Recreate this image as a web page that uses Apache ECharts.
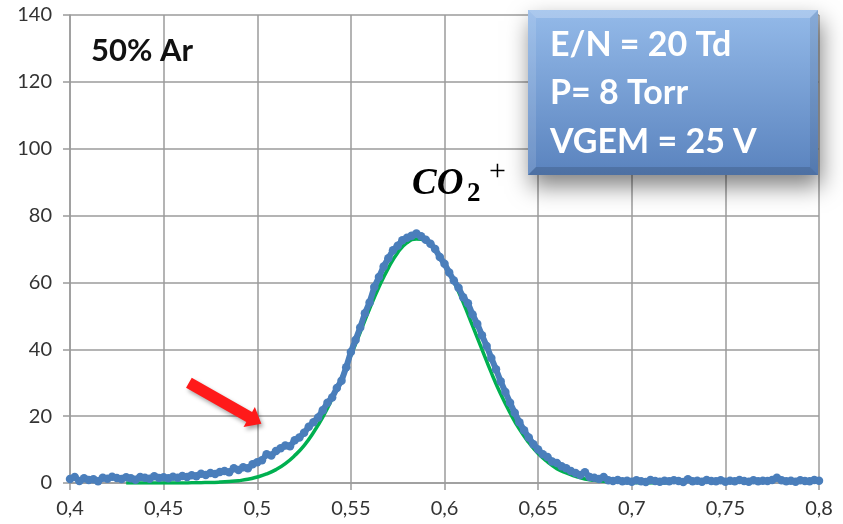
<!DOCTYPE html>
<html><head><meta charset="utf-8">
<script src="https://cdn.jsdelivr.net/npm/echarts@6/dist/echarts.min.js"></script>
<style>html,body{margin:0;padding:0;background:#fff}#c{width:843px;height:524px}</style>
</head><body><div id="c"></div>
<script>
// ---- data ----
const blueX = [
0.4000,0.4025,0.4050,0.4075,0.4100,0.4125,0.4150,0.4175,0.4200,0.4225,0.4250,0.4275,0.4300,0.4325,0.4350,0.4375,
0.4400,0.4425,0.4450,0.4475,0.4500,0.4525,0.4550,0.4575,0.4600,0.4625,0.4650,0.4675,0.4700,0.4725,0.4750,0.4775,
0.4800,0.4825,0.4850,0.4875,0.4900,0.4925,0.4950,0.4975,0.5000,0.5025,0.5050,0.5075,0.5100,0.5125,0.5150,0.5175,
0.5200,0.5225,0.5250,0.5275,0.5300,0.5325,0.5350,0.5375,0.5400,0.5425,0.5450,0.5475,0.5500,0.5525,0.5550,0.5575,
0.5600,0.5625,0.5650,0.5675,0.5700,0.5725,0.5750,0.5775,0.5800,0.5825,0.5850,0.5875,0.5900,0.5925,0.5950,0.5975,
0.6000,0.6025,0.6050,0.6075,0.6100,0.6125,0.6150,0.6175,0.6200,0.6225,0.6250,0.6275,0.6300,0.6325,0.6350,0.6375,
0.6400,0.6425,0.6450,0.6475,0.6500,0.6525,0.6550,0.6575,0.6600,0.6625,0.6650,0.6675,0.6700,0.6725,0.6750,0.6775,
0.6800,0.6825,0.6850,0.6875,0.6900,0.6925,0.6950,0.6975,0.7000,0.7025,0.7050,0.7075,0.7100,0.7125,0.7150,0.7175,
0.7200,0.7225,0.7250,0.7275,0.7300,0.7325,0.7350,0.7375,0.7400,0.7425,0.7450,0.7475,0.7500,0.7525,0.7550,0.7575,
0.7600,0.7625,0.7650,0.7675,0.7700,0.7725,0.7750,0.7775,0.7800,0.7825,0.7850,0.7875,0.7900,0.7925,0.7950,0.7975,
0.8000];
const blueY = [
1.2,1.8,0.6,1.4,0.9,1.1,0.5,1.6,1.3,1.9,1.5,1.2,1.7,1.4,1.0,1.8,
1.6,1.3,2.0,1.5,1.7,1.4,1.9,1.6,2.1,1.8,2.3,2.0,2.8,2.4,3.0,2.7,
3.3,3.6,3.2,4.4,3.9,4.7,4.4,5.6,6.2,6.8,8.6,8.2,9.6,10.4,11.2,11.0,
12.8,13.6,15.0,16.8,18.2,19.6,21.8,24.0,25.6,28.4,30.6,34.6,39.2,42.8,46.5,50.8,
54.0,58.6,61.6,64.8,67.2,69.6,71.0,72.6,73.4,74.0,74.6,73.8,72.8,71.6,70.0,67.6,
65.6,63.0,60.6,58.4,55.6,53.8,50.4,47.6,44.2,41.0,37.4,34.0,30.4,27.2,24.0,21.0,
18.2,15.8,13.6,11.6,10.0,8.6,7.8,6.4,6.0,5.0,4.4,3.6,3.0,2.4,3.2,1.8,
1.6,1.2,1.8,0.8,0.6,0.9,0.5,0.7,0.4,0.8,0.5,0.3,0.9,0.6,0.4,0.7,
0.5,0.8,0.6,0.3,1.1,0.5,0.7,0.4,0.9,0.6,0.5,0.8,0.4,0.7,0.5,0.9,
0.6,0.4,0.8,0.5,0.7,0.6,0.9,1.6,0.8,0.5,0.7,0.4,0.8,0.6,0.5,0.9,
0.7];
const fitX = [
0.430,0.440,0.450,0.460,0.465,0.470,0.475,0.480,0.485,0.490,0.495,0.500,0.505,0.510,0.515,0.520,
0.525,0.530,0.535,0.540,0.545,0.550,0.555,0.560,0.565,0.570,0.575,0.580,0.585,0.590,0.595,0.600,
0.605,0.610,0.615,0.620,0.625,0.630,0.635,0.640,0.645,0.650,0.655,0.660,0.665,0.670,0.675,0.680,
0.685,0.690,0.695,0.700,0.710,0.720];
const fitY = [
0.0,0.0,0.0,0.0,0.05,0.1,0.15,0.27,0.45,0.7,1.1,1.8,2.7,4.0,5.8,8.2,
11.2,15.1,19.7,25.2,31.4,38.1,45.1,52.1,58.6,64.3,68.9,71.9,73.0,72.3,69.8,65.6,
60.2,54.0,47.0,40.0,33.0,26.6,21.0,16.1,12.1,8.8,6.3,4.3,3.0,2.0,1.2,0.8,
0.5,0.3,0.2,0.1,0.0,0.0];
const xRange = [0.4, 0.8, 0.05];
const yRange = [0, 140, 20];
const sampleLabel = '50% Ar';
const boxLines = ['E/N = 20 Td', 'P= 8 Torr', 'VGEM = 25 V'];
const peakLabel = ['CO', '2', '+'];
const arrowTail = [0.4635, 30.0];
const arrowTip = [0.5022, 17.7];

// ---- chart ----
const chart = echarts.init(document.getElementById('c'), null, {renderer: 'canvas'});
const gridColor = '#9b9b9b';
const fmt = v => (+v.toFixed(2)).toString().replace('.', ',');
const axisCommon = {
  axisLine: {show: true, onZero: false, lineStyle: {color: gridColor, width: 1.5}},
  axisTick: {show: true, length: 7, lineStyle: {color: gridColor, width: 1.5}},
  splitLine: {show: true, lineStyle: {color: gridColor, width: 1.5}},
};
chart.setOption({
  animation: false,
  backgroundColor: '#ffffff',
  grid: {left: 70, right: 24, top: 15, bottom: 41, containLabel: false},
  xAxis: Object.assign({
    type: 'value', min: xRange[0], max: xRange[1], interval: xRange[2],
    axisLabel: {formatter: fmt, color: '#333333', fontFamily: 'Lato', fontSize: 20, margin: 16}
  }, axisCommon),
  yAxis: Object.assign({
    type: 'value', min: yRange[0], max: yRange[1], interval: yRange[2],
    axisLabel: {color: '#333333', fontFamily: 'Lato', fontSize: 20, margin: 18}
  }, axisCommon),
  series: [
    {
      name: 'fit', type: 'line', z: 2, smooth: true, showSymbol: false, silent: true,
      data: fitX.map((x, i) => [x, fitY[i]]),
      lineStyle: {color: '#00b050', width: 3.5}
    },
    {
      name: 'data', type: 'line', z: 3, symbol: 'circle', symbolSize: 8.5, showAllSymbol: true,
      data: blueX.map((x, i) => [x, blueY[i]]),
      itemStyle: {color: '#4a7ebb'},
      lineStyle: {color: '#4a7ebb', width: 6}
    }
  ]
});

// ---- annotations ----
const t = chart.convertToPixel({gridIndex: 0}, arrowTail);
const p = chart.convertToPixel({gridIndex: 0}, arrowTip);
const dx = p[0] - t[0], dy = p[1] - t[1];
const L = Math.hypot(dx, dy), ux = dx / L, uy = dy / L, nx = -uy, ny = ux;
const sw = 5.8, hw = 11.5, hl = 14;
const bx = p[0] - ux * hl, by = p[1] - uy * hl;
const arrowPts = [
  [t[0] + nx * sw, t[1] + ny * sw],
  [bx + nx * sw, by + ny * sw],
  [bx + nx * hw, by + ny * hw],
  [p[0], p[1]],
  [bx - nx * hw, by - ny * hw],
  [bx - nx * sw, by - ny * sw],
  [t[0] - nx * sw, t[1] - ny * sw]
];
const BX = 528, BY = 10, BW = 290, BH = 165, BV = 8;
chart.setOption({
  graphic: [
    {type: 'polygon', z: 20, shape: {points: arrowPts},
      style: {fill: '#ff1a1a', shadowBlur: 4, shadowOffsetX: 2, shadowOffsetY: 3, shadowColor: 'rgba(0,0,0,0.35)'}},
    {type: 'text', z: 20, x: 91, y: 51,
      style: {text: sampleLabel, fill: '#111', fontFamily: 'Lato', fontWeight: 'bold', fontSize: 31, verticalAlign: 'middle'}},
    {type: 'text', z: 20, x: 412, y: 184,
      style: {text: peakLabel[0], fill: '#000', fontFamily: 'Liberation Serif', fontStyle: 'italic', fontWeight: 'bold', fontSize: 37, verticalAlign: 'middle'}},
    {type: 'text', z: 20, x: 467, y: 194,
      style: {text: peakLabel[1], fill: '#000', fontFamily: 'Liberation Serif', fontWeight: 'bold', fontSize: 27, verticalAlign: 'middle'}},
    {type: 'text', z: 20, x: 489, y: 172,
      style: {text: peakLabel[2], fill: '#000', fontFamily: 'Liberation Serif', fontSize: 30, verticalAlign: 'middle'}},
    {type: 'rect', z: 30, shape: {x: BX, y: BY, width: BW, height: BH},
      style: {fill: new echarts.graphic.LinearGradient(0, 0, 0, 1, [{offset: 0, color: '#94bae9'}, {offset: 1, color: '#5a83be'}]),
        shadowBlur: 22, shadowOffsetX: 3, shadowOffsetY: 11, shadowColor: 'rgba(0,0,0,0.5)'}},
    {type: 'polygon', z: 31, shape: {points: [[BX, BY], [BX + BW, BY], [BX + BW - BV, BY + BV], [BX + BV, BY + BV]]}, style: {fill: 'rgba(255,255,255,0.22)'}},
    {type: 'polygon', z: 31, shape: {points: [[BX, BY], [BX + BV, BY + BV], [BX + BV, BY + BH - BV], [BX, BY + BH]]}, style: {fill: 'rgba(255,255,255,0.12)'}},
    {type: 'polygon', z: 31, shape: {points: [[BX, BY + BH], [BX + BV, BY + BH - BV], [BX + BW - BV, BY + BH - BV], [BX + BW, BY + BH]]}, style: {fill: 'rgba(0,0,0,0.14)'}},
    {type: 'polygon', z: 31, shape: {points: [[BX + BW, BY], [BX + BW, BY + BH], [BX + BW - BV, BY + BH - BV], [BX + BW - BV, BY + BV]]}, style: {fill: 'rgba(0,0,0,0.08)'}},
  ].concat(boxLines.map((s, i) => ({
    type: 'text', z: 32, x: 550, y: 45 + i * 48.5,
    style: {text: s, fill: '#ffffff', fontFamily: 'Lato', fontWeight: 'bold', fontSize: 34, verticalAlign: 'middle'}
  })))
});
</script></body></html>
